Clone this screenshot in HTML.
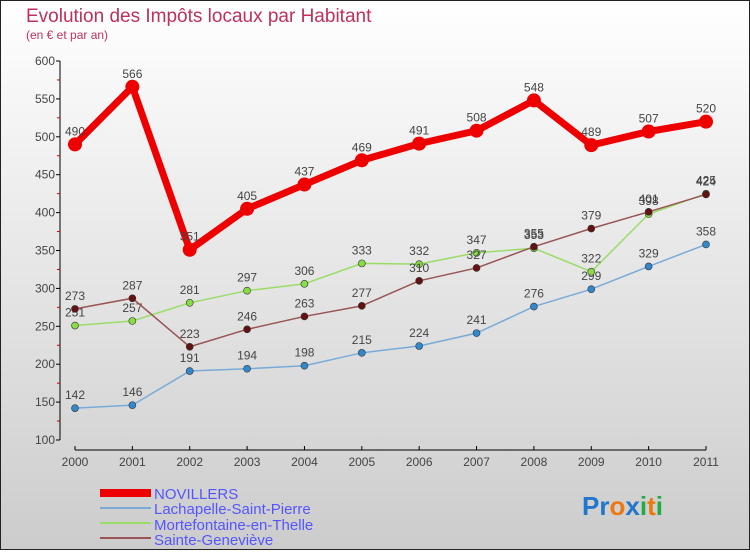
<!DOCTYPE html>
<html><head><meta charset="utf-8"><style>
body{margin:0}
#c{width:750px;height:550px;position:relative;font-family:"Liberation Sans",sans-serif}
</style></head><body>
<div id="c">
<svg id="s" width="750" height="550" xmlns="http://www.w3.org/2000/svg">
<defs><linearGradient id="bg" x1="0" y1="0" x2="0" y2="1"><stop offset="0" stop-color="#ffffff"/><stop offset="1" stop-color="#cccccc"/></linearGradient></defs>
<rect x="0.5" y="0.5" width="749" height="549" fill="url(#bg)" stroke="#222"/>
<text x="26" y="22" font-size="19" fill="#c0305a">Evolution des Impôts locaux par Habitant</text>
<text x="26" y="39" font-size="12" fill="#c0305a">(en € et par an)</text>
<g id="axes"></g><g id="series"></g>
<g>
<rect x="100" y="489" width="51" height="8" fill="#ee0000"/>
<line x1="100" y1="508" x2="151" y2="508" stroke="#7aaad8" stroke-width="2"/>
<line x1="100" y1="523" x2="151" y2="523" stroke="#99dd66" stroke-width="2"/>
<line x1="100" y1="538" x2="151" y2="538" stroke="#995555" stroke-width="2"/>
<g font-size="15" fill="#5555ff">
<text x="154" y="499">NOVILLERS</text>
<text x="154" y="514">Lachapelle-Saint-Pierre</text>
<text x="154" y="530">Mortefontaine-en-Thelle</text>
<text x="154" y="545">Sainte-Geneviève</text>
</g></g>
<g font-size="26" font-weight="bold">
<text x="582" y="515"><tspan fill="#2277cc">Pr</tspan><tspan fill="#ee7711">o</tspan><tspan fill="#2277cc">x</tspan><tspan fill="#22aa44">i</tspan><tspan fill="#ee7711">t</tspan><tspan fill="#22aa44">i</tspan></text>
</g>
</svg></div>
<script>
const years=["2000","2001","2002","2003","2004","2005","2006","2007","2008","2009","2010","2011"];
const yTicks=[100,150,200,250,300,350,400,450,500,550,600];
const novillers=[490,566,351,405,437,469,491,508,548,489,507,520];
const lachapelle=[142,146,191,194,198,215,224,241,276,299,329,358];
const mortefontaine=[251,257,281,297,306,333,332,347,353,322,398,425];
const sainteGenevieve=[273,287,223,246,263,277,310,327,355,379,401,424];
const NS="http://www.w3.org/2000/svg";
function X(i){return 75+i*(706-75)/11;}
function Y(v){return 440-(v-100)*(379/500);}
function mk(t,a,p){const e=document.createElementNS(NS,t);for(const k in a)e.setAttribute(k,a[k]);p.appendChild(e);return e;}
const ax=document.getElementById('axes');
const yl=mk('line',{x1:60,y1:Y(600),x2:60,y2:Y(100),stroke:'#000'},ax);


yTicks.forEach((v,k)=>{
 mk('line',{x1:56,y1:Y(v),x2:60,y2:Y(v),stroke:'#000'},ax);
 if(k<yTicks.length-1) mk('line',{x1:57,y1:Y(v+25),x2:60,y2:Y(v+25),stroke:'#cc0000'},ax);
 const t=mk('text',{x:55,y:Y(v)+4,'text-anchor':'end','font-size':12,fill:'#444'},ax);
 t.textContent=v;
 
 
});
const xl=mk('line',{x1:X(0),y1:450,x2:X(11),y2:450,stroke:'#000'},ax);


years.forEach((y,i)=>{
 mk('line',{x1:X(i),y1:446,x2:X(i),y2:450,stroke:'#000'},ax);
 const t=mk('text',{x:X(i),y:466,'text-anchor':'middle','font-size':12,fill:'#444'},ax);
 t.textContent=y;
 
 
});
const sg=document.getElementById('series');
function series(d,color,dot,w,r,name){
 const g=mk('g',{},sg);
 
 
 mk('polyline',{points:d.map((v,i)=>X(i)+','+Y(v)).join(' '),fill:'none',stroke:color,'stroke-width':w,'stroke-linejoin':'round'},g);
 d.forEach((v,i)=>{
  const c=mk('circle',{cx:X(i),cy:Y(v),r:r,fill:dot,stroke:'#333','stroke-width':r>4?0:0.6},g);
  
  
  const t=mk('text',{x:X(i),y:Y(v)-9,'text-anchor':'middle','font-size':12,fill:'#444'},g);
  t.textContent=v;
  
  
 });
}
series(lachapelle,'#7aaad8','#3388cc',1.5,3.5,'series-lachapelle');
series(mortefontaine,'#99dd66','#88dd44',1.5,3.5,'series-mortefontaine');
series(sainteGenevieve,'#995555','#661111',1.5,3.5,'series-sainte-genevieve');
series(novillers,'#ee0000','#ee0000',7,7,'series-novillers');
</script>
</body></html>
